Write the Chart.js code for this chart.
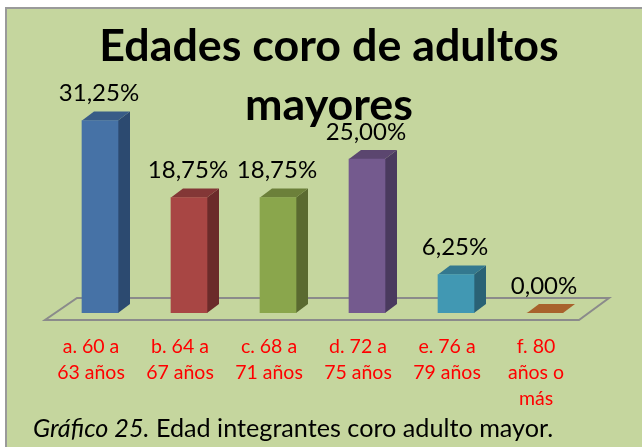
<!DOCTYPE html>
<html>
<head>
<meta charset="utf-8">
<title>Edades coro de adultos mayores</title>
<script src="https://cdn.jsdelivr.net/npm/chart.js@4"></script>
<style>
  html, body { margin: 0; padding: 0; background: #fff; }
  #panel { position: absolute; left: 5px; top: 7px; width: 637px; height: 440px; box-sizing: border-box;
           background: #c5d69e; border-left: 2px solid #9a9a9a; border-top: 2px solid #9a9a9a; }
  #myChart { position: absolute; left: 0; top: 0; }
  #caption { position: absolute; left: 33px; top: 412px; font: 25.2px Lato, sans-serif; color: #000; white-space: nowrap; }
</style>
</head>
<body>
<div id="panel"></div>
<canvas id="myChart" width="642" height="447"></canvas>
<div id="caption"><i>Gráfico 25.</i> Edad integrantes coro adulto mayor.</div>
<script>
const categories = [
  ['a. 60 a', '63 años'],
  ['b. 64 a', '67 años'],
  ['c. 68 a', '71 años'],
  ['d. 72 a', '75 años'],
  ['e. 76 a', '79 años'],
  ['f. 80', 'años o', 'más']
]
const percentages = [31.25, 18.75, 18.75, 25, 6.25, 0]
const titleLines = ['Edades coro de adultos', 'mayores']

const frontColors = ['#4672a6', '#a84644', '#8aa64c', '#745a8e', '#4198b3', '#a8622c']
const topColors = ['#395c87', '#833736', '#6c803a', '#5b466f', '#33788f', '#a8622c']
const sideColors = ['#2c4a70', '#6b2b2a', '#5a6a30', '#4a3a5e', '#2a6275', '#a8622c']

// depth of the fake 3D bars
const depthX = 12
const depthY = 9

const fake3d = {
  id: 'fake3d',
  afterLayout(chart) {
    // title is centred a bit right of the plot
    chart.titleBlock.left += 6.5
    chart.titleBlock.right += 6.5
  },
  beforeDatasetsDraw(chart) {
    const ctx = chart.ctx
    const area = chart.chartArea
    const base = chart.scales.y.getPixelForValue(0)
    // floor
    ctx.save()
    ctx.strokeStyle = '#8b8b8b'
    ctx.lineWidth = 2
    ctx.beginPath()
    ctx.moveTo(area.left - 10.5, base + 7)
    ctx.lineTo(area.right - 10.5, base + 7)
    ctx.lineTo(area.right + 19.5, base - 15)
    ctx.lineTo(area.left + 21.5, base - 15)
    ctx.closePath()
    ctx.stroke()
    // side and top faces
    chart.getDatasetMeta(0).data.forEach(function(bar, i) {
      const left = bar.x - bar.width / 2
      const right = bar.x + bar.width / 2
      ctx.fillStyle = sideColors[i]
      ctx.beginPath()
      ctx.moveTo(right, bar.y)
      ctx.lineTo(right + depthX, bar.y - depthY)
      ctx.lineTo(right + depthX, bar.base - depthY)
      ctx.lineTo(right, bar.base)
      ctx.closePath()
      ctx.fill()
      ctx.fillStyle = topColors[i]
      ctx.beginPath()
      ctx.moveTo(left, bar.y)
      ctx.lineTo(left + depthX, bar.y - depthY)
      ctx.lineTo(right + depthX, bar.y - depthY)
      ctx.lineTo(right, bar.y)
      ctx.closePath()
      ctx.fill()
    })
    ctx.restore()
  },
  afterDatasetsDraw(chart) {
    const ctx = chart.ctx
    ctx.save()
    ctx.font = '24px Lato, sans-serif'
    ctx.fillStyle = '#000'
    ctx.textAlign = 'center'
    ctx.textBaseline = 'middle'
    chart.getDatasetMeta(0).data.forEach(function(bar, i) {
      const label = percentages[i].toFixed(2).replace('.', ',') + '%'
      ctx.fillText(label, bar.x - 1, bar.y - 27)
    })
    ctx.restore()
  }
}

const ctx = document.getElementById('myChart').getContext('2d')
const myChart = new Chart(ctx, {
  type: 'bar',
  data: {
    labels: categories,
    datasets: [{
      label: 'Edades',
      data: percentages,
      backgroundColor: frontColors,
      barThickness: 36
    }]
  },
  plugins: [fake3d],
  options: {
    responsive: false,
    animation: false,
    layout: { padding: { left: 55.5, right: 52.5, top: 0, bottom: 14 } },
    plugins: {
      legend: { display: false },
      tooltip: { enabled: false },
      title: {
        display: true,
        text: titleLines,
        color: '#000',
        font: { family: 'Lato, sans-serif', size: 44.8, weight: 'bold', lineHeight: 1.317 },
        padding: { top: 17, bottom: -37.6 }
      }
    },
    scales: {
      x: {
        grid: { display: false, drawTicks: false },
        border: { display: false },
        ticks: {
          color: '#ff0000',
          font: { family: 'Lato, sans-serif', size: 19.5, lineHeight: 1.333 },
          padding: 21,
          labelOffset: -9,
          maxRotation: 0,
          autoSkip: false
        }
      },
      y: { display: false, min: 0, max: 35 }
    }
  }
})
</script>
</body>
</html>
